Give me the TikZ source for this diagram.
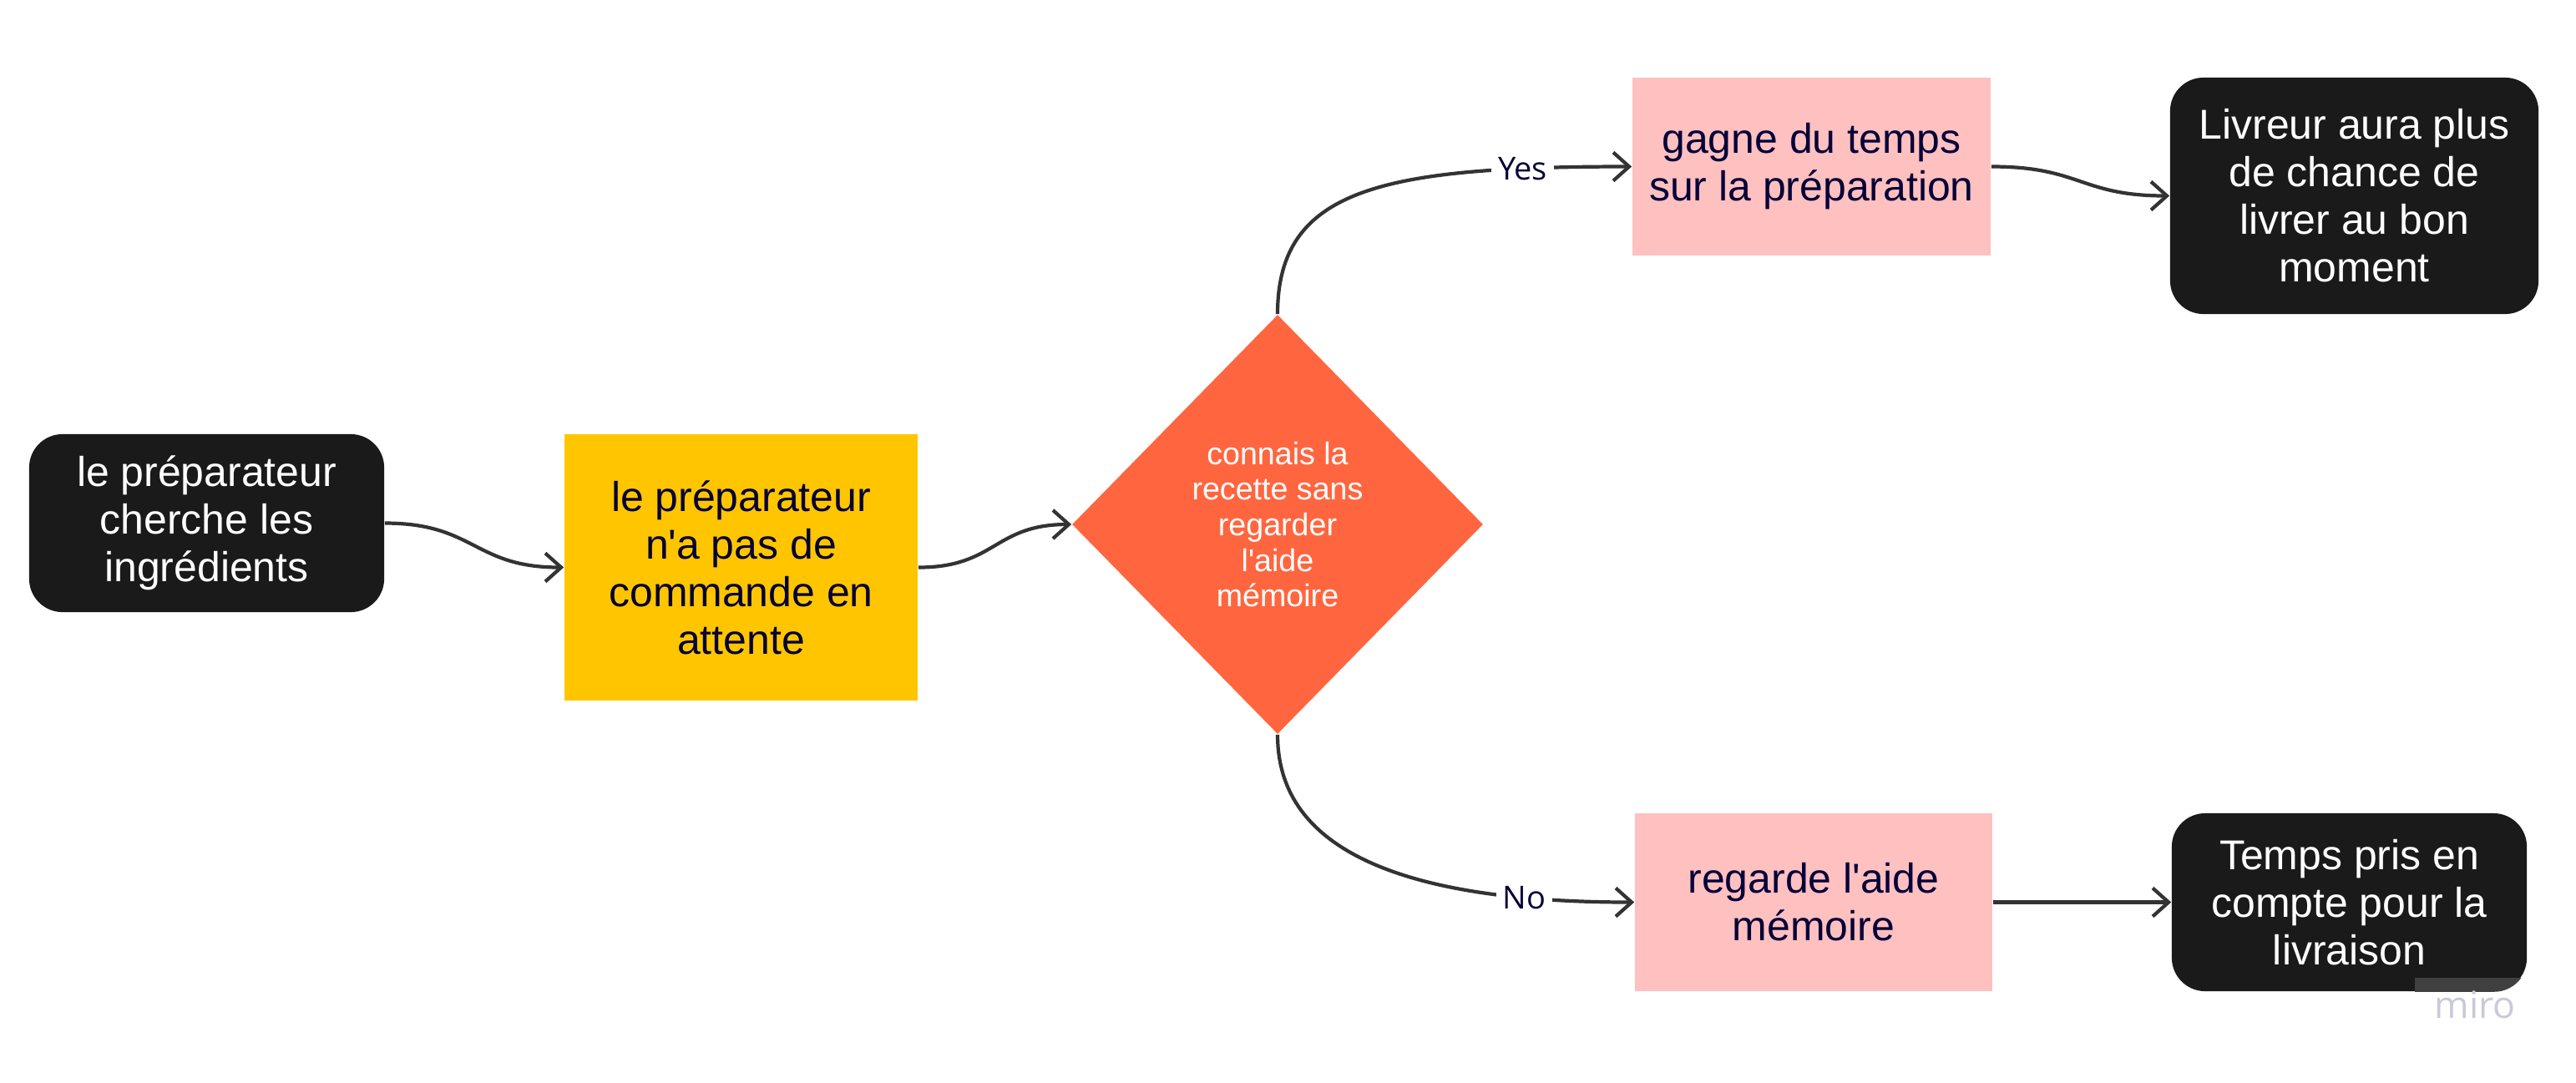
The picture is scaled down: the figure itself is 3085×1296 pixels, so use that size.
\documentclass[tikz,border=0pt]{standalone}
\usepackage{fontspec}
\setmainfont{Liberation Sans}
\newfontfamily\lblfont{Open Sans}
\usetikzlibrary{shapes.geometric,arrows.meta}
\definecolor{boxblack}{HTML}{1A1A1A}
\definecolor{stickyyellow}{HTML}{FFC600}
\definecolor{stickypink}{HTML}{FFC0C0}
\definecolor{decorange}{HTML}{FF6640}
\definecolor{navy}{HTML}{050038}
\definecolor{connclr}{HTML}{333333}
\definecolor{wmclr}{HTML}{C9C9D9}
\definecolor{wmpatch}{HTML}{404040}
\begin{document}
\begin{tikzpicture}[x=0.01cm,y=-0.01cm,
  boxfont/.style={font={\fontsize{14.2pt}{16.2pt}\selectfont}},
  blackbox/.style={rectangle, rounded corners=0.4cm, fill=boxblack, text=white, inner sep=0pt, align=center, boxfont},
  yellowbox/.style={rectangle, fill=stickyyellow, text=navy, inner sep=0pt, align=center, boxfont},
  pinkbox/.style={rectangle, fill=stickypink, text=navy, inner sep=0pt, align=center, boxfont},
  decision/.style={diamond, fill=decorange, text=white, inner sep=0pt, align=center, font={\fontsize{10.7pt}{12.1pt}\selectfont}},
  arr/.style={draw=connclr, line width=1.2pt, -{Straight Barb[length=1.9mm,width=3.4mm]}},
  lbl/.style={fill=white, text=navy, inner sep=0.08cm, font={\lblfont\fontsize{10.8pt}{12pt}\selectfont}}
]
\fill[white] (0,0) rectangle (3085,1296);
\useasboundingbox (0,0) rectangle (3085,1296);

\node[blackbox, minimum width=4.25cm, minimum height=2.13cm] (b1) at (247.5,626.5) {le préparateur\\cherche les\\ingrédients};
\node[yellowbox, minimum width=4.23cm, minimum height=3.19cm] (y1) at (887.5,679.5) {le préparateur\\n\textquotesingle a pas de\\commande en\\attente};
\node[decision, minimum width=4.92cm, minimum height=5.02cm] (d1) at (1530,628) {connais la\\recette sans\\regarder\\l\textquotesingle aide\\mémoire};
\node[pinkbox, minimum width=4.29cm, minimum height=2.13cm] (p1) at (2169.5,199.5) {gagne du temps\\sur la préparation};
\node[blackbox, minimum width=4.41cm, minimum height=2.83cm] (b2) at (2819.5,234.5) {Livreur aura plus\\de chance de\\livrer au bon\\moment};
\node[pinkbox, minimum width=4.28cm, minimum height=2.13cm] (p2) at (2172,1080.5) {regarde l\textquotesingle aide\\mémoire};
\node[blackbox, minimum width=4.25cm, minimum height=2.13cm] (b3) at (2813.5,1080.5) {Temps pris en\\compte pour la\\livraison};

\begin{scope}
  \clip[rounded corners=0.4cm] (b3.south west) rectangle (b3.north east);
  \fill[wmpatch] (2892,1171) rectangle (3040,1195);
\end{scope}
\node[text=wmclr, inner sep=0pt, font={\lblfont\fontsize{12.7pt}{14pt}\selectfont}] (wm) at (2964,1203) {miro};

\draw[arr] (b1.east) .. controls +(108,0) and +(-108,0) .. (y1.west);
\draw[arr] (y1.east) .. controls +(93,0) and +(-93,0) .. (d1.west);
\draw[arr] (p1.east) .. controls +(107,0) and +(-107,0) .. (b2.west);
\draw[arr] (p2.east) -- (b3.west);
\draw[arr] (d1.north) .. controls +(0,-150) and +(-300,0) .. node[lbl, pos=0.84] (yes) {Yes} (p1.west);
\draw[arr] (d1.south) .. controls +(0,100) and +(-350,0) .. node[lbl, pos=0.86] (no) {No} (p2.west);
\end{tikzpicture}
\end{document}
